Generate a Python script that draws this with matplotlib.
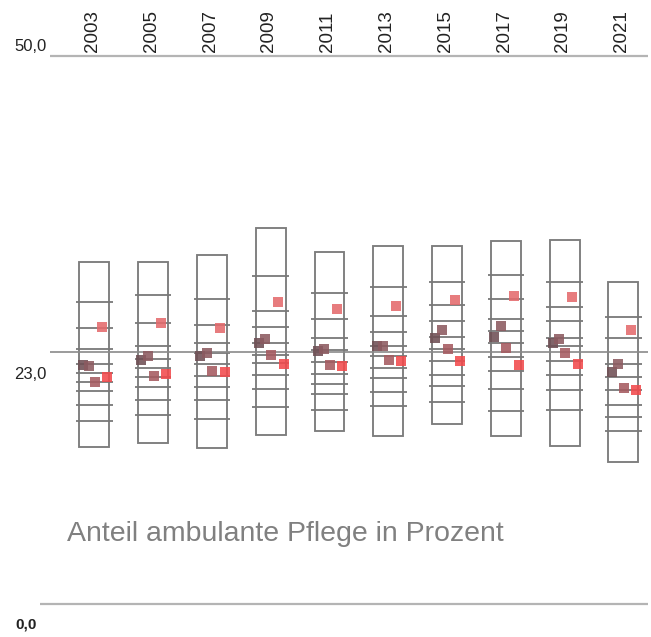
import numpy as np
import matplotlib
matplotlib.use('Agg')
import matplotlib.pyplot as plt

plt.rcParams['font.family'] = ['Liberation Sans', 'DejaVu Sans']

# Jahre und Spannweiten (Minimum / Maximum der Länder)
years = ['2003', '2005', '2007', '2009', '2011', '2013', '2015', '2017', '2019', '2021']
range_min = [14.3, 14.7, 14.2, 15.4, 15.8, 15.3, 16.4, 15.3, 14.4, 13.0]
range_max = [31.2, 31.2, 31.8, 34.3, 32.1, 32.7, 32.7, 33.1, 33.2, 29.4]

# Werte der einzelnen Länder innerhalb der Spannweite
state_values = [
    [27.6, 25.2, 23.3, 21.9, 21.1, 20.3, 19.4, 18.2, 16.7],
    [28.2, 25.6, 23.5, 22.4, 21.5, 20.7, 19.8, 18.6, 17.2],
    [27.8, 25.5, 23.8, 22.9, 21.9, 20.8, 19.8, 18.6, 16.9],
    [29.9, 26.7, 25.3, 23.8, 22.7, 22.0, 20.9, 19.6, 18.0],
    [28.4, 26.0, 24.3, 23.2, 22.1, 21.0, 20.1, 19.2, 17.7],
    [28.9, 26.3, 24.8, 23.5, 22.6, 21.5, 20.6, 19.3, 18.1],
    [29.4, 27.3, 25.8, 24.4, 23.3, 22.2, 20.9, 19.9, 18.4],
    [30.0, 27.8, 26.0, 24.9, 23.8, 22.5, 21.3, 19.6, 17.6],
    [29.4, 27.1, 25.8, 24.3, 23.5, 22.2, 20.9, 19.5, 17.7],
    [26.2, 24.3, 21.9, 20.7, 19.5, 18.2, 17.1, 15.8],
]

# hervorgehobene Reihen (Quadrate)
series_1 = [21.8, 22.3, 22.6, 23.8, 23.1, 23.5, 24.3, 24.4, 23.8, 21.2]
series_2 = [21.7, 22.6, 22.9, 24.2, 23.3, 23.5, 25.0, 25.4, 24.2, 21.9]
series_3 = [20.3, 20.8, 21.3, 22.7, 21.8, 22.3, 23.3, 23.4, 22.9, 19.7]
series_4 = [25.3, 25.6, 25.2, 27.6, 26.9, 27.2, 27.7, 28.1, 28.0, 25.0]
series_5 = [20.7, 21.0, 21.2, 21.9, 21.7, 22.2, 22.2, 21.8, 21.9, 19.5]

reference_value = 23.0
axis_labels = ['50,0', '23,0', '0,0']
title = 'Anteil ambulante Pflege in Prozent'

fig = plt.figure(figsize=(6.51, 6.37), dpi=100)
ax = fig.add_axes([0, 0, 1, 1])
ax.set_xlim(-1.604, 9.468)
ax.set_ylim(-3.01, 55.11)
ax.axis('off')

x = np.arange(len(years))

# Achsenlinien 50 / 23 / 0
ax.hlines(50, -0.753, 9.417, color='#b4b4b4', lw=1.6)
ax.hlines(0, -0.923, 9.417, color='#b4b4b4', lw=1.6)
ax.hlines(reference_value, -0.753, 9.417, color='#8a8a8a', lw=1.2, zorder=3)

# Spannweiten-Kästen
heights = np.array(range_max) - np.array(range_min)
ax.bar(x, heights, bottom=range_min, width=0.51, fill=False,
       edgecolor='#7c7c7c', linewidth=1.35, zorder=2)

for i, vals in enumerate(state_values):
    ax.hlines(vals, i - 0.31, i + 0.31, color='#787878', lw=1.3, zorder=2)

series = [series_1, series_2, series_3, series_4, series_5]
offsets = [-0.20, -0.09, 0.01, 0.13, 0.22]
colors = ['#6f4f54', '#8c5a60', '#a55a60', '#e46a6c', '#f24a4c']
for vals, off, col in zip(series, offsets, colors):
    ax.scatter(x + off, vals, marker='s', s=52, color=col, alpha=0.88,
               linewidths=0, zorder=4)

# Jahreszahlen
for i, yr in enumerate(years):
    ax.text(i - 0.03, 50.4, yr, rotation=90, ha='center', va='bottom',
            fontsize=13.5, color='#222222')

# Achsenbeschriftungen
ax.text(-0.81, 50.5, axis_labels[0], ha='right', va='baseline', fontsize=12, color='#222222')
ax.text(-0.81, 20.5, axis_labels[1], ha='right', va='baseline', fontsize=12, color='#222222')
ax.text(-0.976, -2.2, axis_labels[2], ha='right', va='baseline', fontsize=11,
        color='#222222', fontweight='bold')

ax.text(-0.464, 5.75, title, ha='left', va='baseline', fontsize=20.5, color='#808080')

fig.savefig('out.png', dpi=100)
